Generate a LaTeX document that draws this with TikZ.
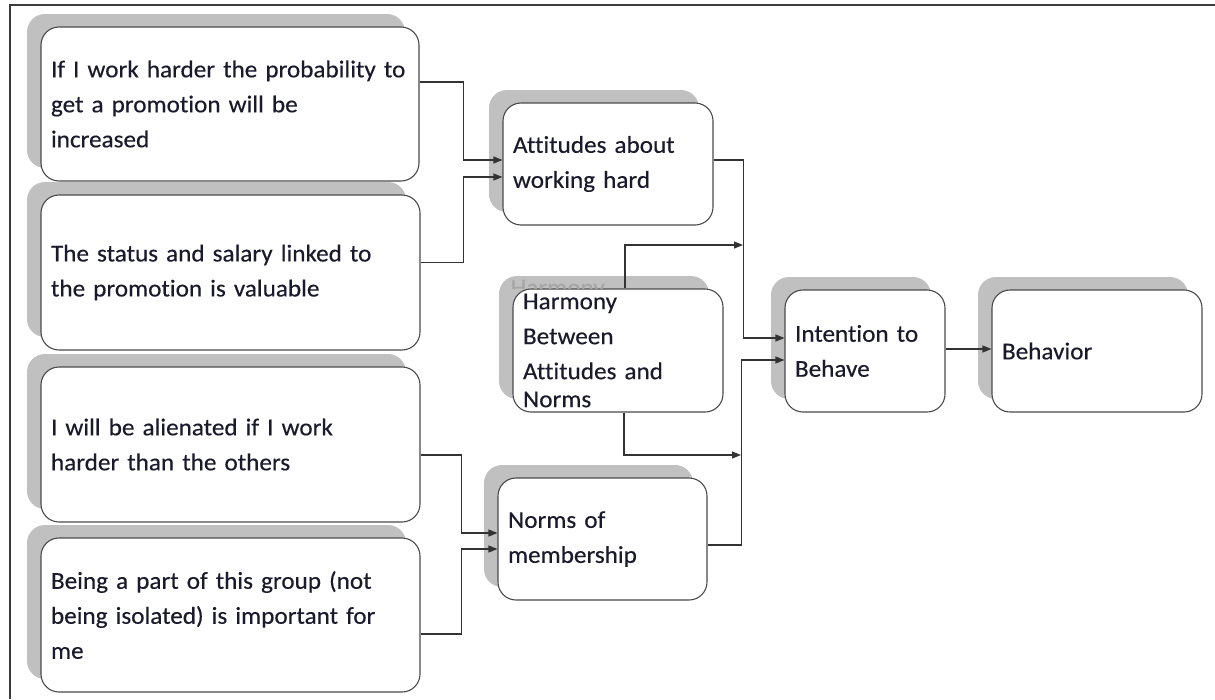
\documentclass[tikz,border=0pt]{standalone}
\usepackage{fontspec}
\setmainfont{Carlito}[Ligatures=NoCommon, FakeStretch=1.04, FakeBold=0.3, WordSpace=0.75]
\usetikzlibrary{arrows.meta,calc,shadows}

\definecolor{shadowgray}{HTML}{C0C0C0}
\definecolor{edge}{HTML}{4A4A4A}
\definecolor{ink}{HTML}{1A1A2C}
\definecolor{wire}{HTML}{333333}
\definecolor{frame}{HTML}{3C3C3C}
\definecolor{ghost}{HTML}{A6A6A6}

\newcommand{\cardfont}{\fontsize{24.2}{35}\selectfont}

\begin{document}
\begin{tikzpicture}[x=1pt,y=-1pt,
  card/.style={draw=edge, line width=1.1pt, fill=white, rounded corners=18pt,
    copy shadow={shadow xshift=-14pt, shadow yshift=13pt, fill=shadowgray, draw=none},
    inner xsep=10pt, inner ysep=0pt, align=left,
    font=\cardfont, text=ink},
  link/.style={draw=wire, line width=1.1pt},
  conn/.style={link, -{Triangle[length=9pt,width=7pt]}}]

\useasboundingbox (0,0) rectangle (1215,699);

% outer frame (top and left edges)
\draw[frame, line width=2.2pt] (10,699) -- (10,5) -- (1215,5);

% belief boxes on the left
\node[card, text width=358pt, minimum height=154pt] (b1) at (230,104)
  {\mbox{If I work harder the probability to}\\get a promotion will be\\increased};
\node[card, text width=359pt, minimum height=155pt] (b2) at (230.5,272.5)
  {\mbox{The status and salary linked to}\\the promotion is valuable};
\node[card, text width=359pt, minimum height=155pt] (b3) at (230.5,444.5)
  {I will be alienated if I work\\harder than the others};
\node[card, text width=359pt, minimum height=154pt] (b4) at (230.5,615)
  {\mbox{Being a part of this group (not}\\\mbox{being isolated) is important for}\\me};

% middle column
\node[card, text width=190pt, minimum height=122pt] (att) at (608,164)
  {Attitudes about\\working hard};
\node[card, text width=190pt, minimum height=123pt] (harm) at (618,350.5)
  {Harmony\\Between\\Attitudes and\\[-7pt]Norms};
\node[card, text width=189pt, minimum height=122pt] (norms) at (602.5,539)
  {Norms of\\membership};

% faint duplicate label showing through the shadow strip
\begin{scope}
  \clip ($(harm.north west)+(-14,-16)$) rectangle (harm.north east);
  \node[anchor=base west, inner sep=0pt, font=\cardfont, text=ghost]
    at ($(harm.west)+(-2,-55)$) {Harmony};
\end{scope}

% right column
\node[card, text width=140pt, minimum height=122pt] (int) at (865,351)
  {Intention to\\Behave};
\node[card, text width=190pt, minimum height=122pt] (beh) at (1097,351)
  {Behavior};

% junction points on the vertical feeder lines
\coordinate (jtop) at (743,245);
\coordinate (jbot) at (741,455);

% connectors
\draw[conn] ($(b1.east)+(0,-22)$) -- ++(44,0) |- ($(att.west)+(0,-4)$);
\draw[conn] ($(b2.east)+(0,-10)$) -- ++(43,0) |- ($(att.west)+(0,13)$);
\draw[conn] ($(b3.east)+(0,10.5)$) -- ++(41,0) |- ($(norms.west)+(0,-6)$);
\draw[conn] ($(b4.east)+(0,19)$) -- ++(41,0) |- ($(norms.west)+(0,10)$);
\draw[conn] ($(att.east)+(0,-4)$) -- ++(30,0) |- ($(int.west)+(0,-13)$);
\draw[conn] ($(norms.east)+(0,6)$) -- ++(34,0) |- ($(int.west)+(0,9)$);
\draw[conn] ($(harm.north)+(7,0)$) |- (jtop);
\draw[conn] ($(harm.south)+(6,0)$) |- (jbot);
\draw[conn] ($(int.east)+(0,-2)$) -- ($(beh.west)+(0,-2)$);

\end{tikzpicture}
\end{document}
